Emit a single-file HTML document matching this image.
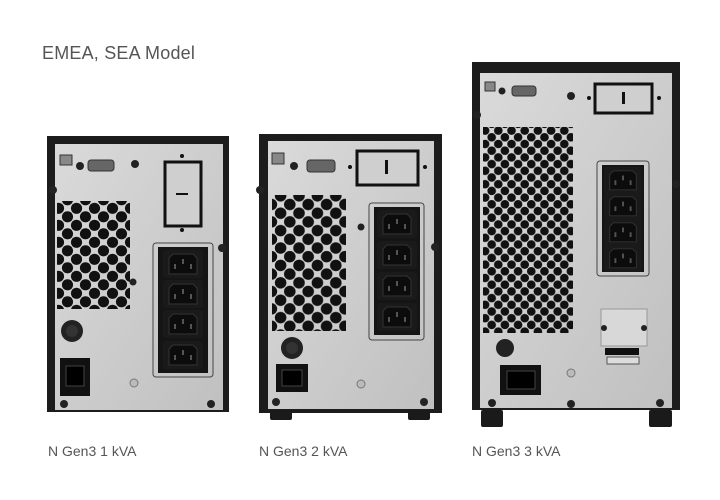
<!DOCTYPE html>
<html><head><meta charset="utf-8"><style>
html,body{margin:0;padding:0;background:#fff;}
svg{display:block;}
text{font-family:"Liberation Sans",sans-serif;}
</style></head><body>
<svg width="720" height="500" viewBox="0 0 720 500" xmlns="http://www.w3.org/2000/svg">
<defs>
<linearGradient id="sil" x1="0" y1="0" x2="1" y2="1">
<stop offset="0" stop-color="#dadada"/><stop offset="0.5" stop-color="#cdcdcd"/><stop offset="1" stop-color="#c0c0c0"/>
</linearGradient>
<pattern id="h2" x="0" y="0" width="18.4" height="17.4" patternUnits="userSpaceOnUse">
<circle cx="4.6" cy="4.4" r="5.8" fill="#111"/><circle cx="13.8" cy="13.1" r="5.8" fill="#111"/>
<circle cx="-4.6" cy="13.1" r="5.8" fill="#111"/><circle cx="23" cy="4.4" r="5.8" fill="#111"/>
<circle cx="4.6" cy="21.8" r="5.8" fill="#111"/><circle cx="13.8" cy="-4.3" r="5.8" fill="#111"/>
</pattern>
<pattern id="h1" x="0" y="0" width="18" height="17" patternUnits="userSpaceOnUse">
<circle cx="4.5" cy="4.3" r="5.6" fill="#111"/><circle cx="13.5" cy="12.8" r="5.6" fill="#111"/>
<circle cx="-4.5" cy="12.8" r="5.6" fill="#111"/><circle cx="22.5" cy="4.3" r="5.6" fill="#111"/>
<circle cx="4.5" cy="21.3" r="5.6" fill="#111"/><circle cx="13.5" cy="-4.2" r="5.6" fill="#111"/>
</pattern>
<pattern id="h3" x="0" y="0" width="13.2" height="13.4" patternUnits="userSpaceOnUse">
<circle cx="3.3" cy="3.3" r="4.3" fill="#111"/><circle cx="9.9" cy="10" r="4.3" fill="#111"/>
<circle cx="-3.3" cy="10" r="4.3" fill="#111"/><circle cx="16.5" cy="3.3" r="4.3" fill="#111"/>
<circle cx="3.3" cy="16.7" r="4.3" fill="#111"/><circle cx="9.9" cy="-3.4" r="4.3" fill="#111"/>
</pattern>
<g id="outlet">
<rect x="0" y="0" width="40" height="28" rx="3" fill="#1a1a1a"/>
<path d="M6 8 L10 4 L30 4 L34 8 L34 24 L6 24 Z" fill="#0c0c0c" stroke="#333" stroke-width="1"/>
<rect x="11" y="14" width="2" height="5" fill="#555"/><rect x="27" y="14" width="2" height="5" fill="#555"/><rect x="19" y="9" width="2" height="5" fill="#555"/>
</g>
</defs>

<text x="42" y="59" font-size="18" fill="#555" letter-spacing="0.2">EMEA, SEA Model</text>

<!-- Unit 1 -->
<rect x="47" y="136" width="182" height="276" fill="#1c1c1c"/>
<rect x="55" y="144" width="168" height="266" fill="url(#sil)"/>
<rect x="57" y="201" width="73" height="108" fill="url(#h1)"/>
<rect x="60" y="155" width="12" height="10" fill="#888" stroke="#333" stroke-width="1"/>
<rect x="88" y="160" width="26" height="11" rx="3" fill="#666" stroke="#333"/>
<circle cx="80" cy="166" r="4" fill="#222"/><circle cx="135" cy="164" r="4" fill="#222"/>
<rect x="165" y="162" width="36" height="64" fill="#cfcfcf" stroke="#111" stroke-width="3"/>
<rect x="176" y="193" width="12" height="2" fill="#111"/>
<circle cx="182" cy="156" r="2" fill="#111"/><circle cx="182" cy="230" r="2" fill="#111"/>
<rect x="153" y="243" width="60" height="134" rx="3" fill="none" stroke="#444" stroke-width="1"/>
<rect x="158" y="247" width="50" height="126" fill="#151515"/>
<use href="#outlet" x="163" y="250"/><use href="#outlet" x="163" y="280"/><use href="#outlet" x="163" y="310"/><use href="#outlet" x="163" y="341"/>
<circle cx="72" cy="331" r="11" fill="#222"/><circle cx="72" cy="331" r="6" fill="#333"/>
<rect x="60" y="358" width="30" height="38" fill="#111"/><rect x="66" y="366" width="18" height="20" fill="#000" stroke="#444"/>
<circle cx="222" cy="248" r="4" fill="#222"/><circle cx="64" cy="404" r="4" fill="#222"/><circle cx="211" cy="404" r="4" fill="#222"/>
<circle cx="133" cy="282" r="3.5" fill="#222"/><circle cx="53" cy="190" r="4" fill="#222"/>
<circle cx="134" cy="383" r="4" fill="#bbb" stroke="#777"/>

<!-- Unit 2 -->
<rect x="259" y="134" width="183" height="279" fill="#1c1c1c"/>
<rect x="268" y="141" width="166" height="268" fill="url(#sil)"/>
<rect x="272" y="195" width="74" height="136" fill="url(#h2)"/>
<rect x="272" y="153" width="12" height="11" fill="#888" stroke="#333"/>
<rect x="307" y="160" width="28" height="12" rx="3" fill="#666" stroke="#333"/>
<circle cx="294" cy="166" r="4" fill="#222"/><circle cx="350" cy="167" r="2" fill="#111"/><circle cx="425" cy="167" r="2" fill="#111"/>
<rect x="357" y="151" width="61" height="34" fill="#cfcfcf" stroke="#111" stroke-width="3"/>
<rect x="385" y="160" width="3" height="14" fill="#111"/>
<rect x="369" y="203" width="55" height="137" rx="3" fill="none" stroke="#444"/>
<rect x="374" y="207" width="46" height="128" fill="#151515"/>
<use href="#outlet" x="377" y="210"/><use href="#outlet" x="377" y="241"/><use href="#outlet" x="377" y="272"/><use href="#outlet" x="377" y="303"/>
<circle cx="292" cy="348" r="11" fill="#222"/><circle cx="292" cy="348" r="6" fill="#333"/>
<rect x="276" y="364" width="32" height="28" fill="#111"/><rect x="282" y="370" width="20" height="16" fill="#000" stroke="#444"/>
<circle cx="361" cy="384" r="4" fill="#bbb" stroke="#777"/>
<circle cx="276" cy="402" r="4" fill="#222"/><circle cx="424" cy="402" r="4" fill="#222"/><circle cx="260" cy="190" r="4" fill="#222"/><circle cx="435" cy="247" r="4" fill="#222"/><circle cx="361" cy="227" r="3.5" fill="#222"/>
<rect x="270" y="410" width="22" height="10" rx="2" fill="#1a1a1a"/><rect x="408" y="410" width="22" height="10" rx="2" fill="#1a1a1a"/>

<!-- Unit 3 -->
<rect x="472" y="62" width="208" height="348" fill="#1c1c1c"/>
<rect x="480" y="73" width="192" height="335" fill="url(#sil)"/>
<rect x="483" y="127" width="90" height="206" fill="url(#h3)"/>
<rect x="485" y="82" width="10" height="9" fill="#888" stroke="#333"/>
<rect x="512" y="86" width="24" height="10" rx="3" fill="#666" stroke="#333"/>
<circle cx="502" cy="91" r="3.5" fill="#222"/><circle cx="571" cy="96" r="4" fill="#222"/>
<rect x="595" y="84" width="57" height="29" fill="#cfcfcf" stroke="#111" stroke-width="3"/>
<rect x="622" y="92" width="3" height="12" fill="#111"/>
<circle cx="589" cy="98" r="2" fill="#111"/><circle cx="659" cy="98" r="2" fill="#111"/>
<rect x="597" y="161" width="52" height="115" rx="3" fill="none" stroke="#444"/>
<rect x="602" y="165" width="42" height="107" fill="#151515"/>
<use href="#outlet" x="604" y="167" transform="translate(604 167) scale(0.95) translate(-604 -167)"/>
<use href="#outlet" x="604" y="193" transform="translate(604 193) scale(0.95) translate(-604 -193)"/>
<use href="#outlet" x="604" y="219" transform="translate(604 219) scale(0.95) translate(-604 -219)"/>
<use href="#outlet" x="604" y="245" transform="translate(604 245) scale(0.95) translate(-604 -245)"/>
<rect x="601" y="309" width="46" height="37" fill="#d8d8d8" stroke="#999"/>
<circle cx="604" cy="328" r="3" fill="#222"/><circle cx="644" cy="328" r="3" fill="#222"/>
<rect x="605" y="348" width="34" height="7" fill="#111"/>
<rect x="607" y="357" width="32" height="7" fill="#ddd" stroke="#555"/>
<circle cx="505" cy="348" r="9" fill="#222"/>
<rect x="500" y="365" width="41" height="30" fill="#111"/><rect x="507" y="371" width="28" height="18" fill="#000" stroke="#444"/>
<circle cx="571" cy="373" r="4" fill="#bbb" stroke="#777"/>
<circle cx="492" cy="403" r="4" fill="#222"/><circle cx="660" cy="403" r="4" fill="#222"/><circle cx="571" cy="404" r="4" fill="#222"/><circle cx="477" cy="115" r="4" fill="#222"/><circle cx="676" cy="184" r="4" fill="#222"/>
<rect x="481" y="410" width="22" height="17" rx="2" fill="#1a1a1a"/><rect x="649" y="410" width="23" height="17" rx="2" fill="#1a1a1a"/>

<text x="48" y="456" font-size="14" fill="#555">N Gen3 1 kVA</text>
<text x="259" y="456" font-size="14" fill="#555">N Gen3 2 kVA</text>
<text x="472" y="456" font-size="14" fill="#555">N Gen3 3 kVA</text>
</svg>
</body></html>
